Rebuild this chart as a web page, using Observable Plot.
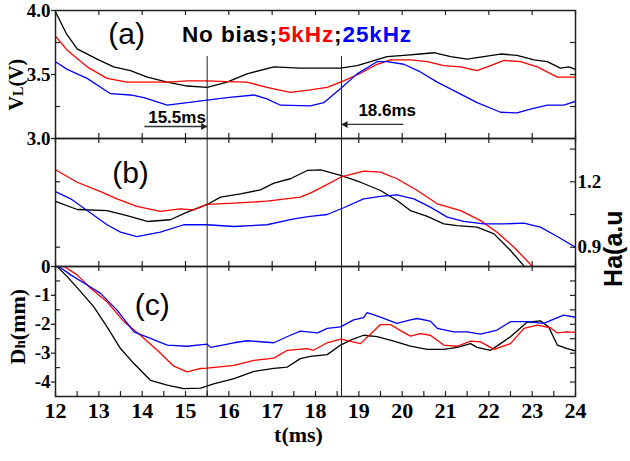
<!DOCTYPE html>
<html><head><meta charset="utf-8">
<script src="https://cdn.jsdelivr.net/npm/d3@7"></script>
<script src="https://cdn.jsdelivr.net/npm/@observablehq/plot@0.6"></script>
<style>
html,body{margin:0;padding:0;background:#fff;}
#chart{position:relative;width:630px;height:461px;overflow:hidden;}
</style></head><body><div id="chart"></div>
<script>
// ---------- data ----------
const seriesNames = ["No bias", "5kHz", "25kHz"];
const seriesColors = ["#000000", "#ff0000", "#0000ff"];

// (a) loop voltage V_L (V)
const vlNoBias = [[12,3.99],[12.25,3.82],[12.5,3.70],[12.96,3.62],[13.34,3.56],[13.73,3.53],[14.12,3.48],[14.58,3.44],[15.04,3.41],[15.5,3.40],[15.96,3.44],[16.42,3.505],[17.04,3.56],[17.65,3.55],[18.58,3.55],[18.96,3.57],[19.27,3.60],[19.65,3.64],[20.04,3.65],[20.42,3.66],[20.73,3.67],[21.12,3.64],[21.5,3.62],[21.88,3.64],[22.27,3.66],[22.65,3.65],[23.04,3.615],[23.35,3.60],[23.65,3.55],[23.85,3.56],[24,3.54]];
const vl5k = [[12,3.80],[12.27,3.69],[12.73,3.56],[13.19,3.47],[13.65,3.44],[14.12,3.44],[14.58,3.44],[15.04,3.45],[15.5,3.45],[15.96,3.445],[16.42,3.44],[16.88,3.40],[17.42,3.36],[17.88,3.38],[18.27,3.40],[18.65,3.45],[19.04,3.51],[19.42,3.58],[19.73,3.615],[20.19,3.615],[20.58,3.60],[20.96,3.57],[21.35,3.56],[21.73,3.53],[22.04,3.57],[22.35,3.61],[22.73,3.60],[23.12,3.56],[23.58,3.48],[24,3.48]];
const vl25k = [[12,3.60],[12.27,3.54],[12.73,3.47],[13.27,3.35],[13.73,3.34],[14.04,3.32],[14.58,3.26],[15.04,3.28],[15.5,3.30],[15.96,3.32],[16.58,3.34],[16.88,3.31],[17.19,3.26],[17.88,3.255],[18.19,3.28],[18.58,3.39],[18.96,3.505],[19.42,3.60],[19.65,3.60],[20.04,3.58],[20.42,3.52],[20.81,3.44],[21.27,3.36],[21.73,3.28],[22.27,3.205],[22.65,3.20],[22.96,3.23],[23.35,3.26],[23.73,3.26],[24,3.29]];

// (b) H-alpha (a.u)
const haNoBias = [[12,1.11],[12.5,1.073],[13.19,1.068],[13.65,1.045],[14.12,1.018],[14.65,1.026],[15.04,1.061],[15.5,1.096],[15.81,1.13],[16.27,1.145],[16.73,1.163],[17.04,1.194],[17.42,1.214],[17.81,1.252],[18.12,1.255],[18.58,1.229],[19.04,1.198],[19.5,1.16],[19.88,1.114],[20.19,1.068],[20.58,1.041],[20.96,1.007],[21.27,0.999],[21.73,0.992],[22.12,0.961],[22.5,0.885],[22.85,0.805]];
const ha5k = [[12,1.255],[12.5,1.198],[13.04,1.155],[13.42,1.122],[13.88,1.087],[14.42,1.064],[14.88,1.076],[15.19,1.071],[15.5,1.096],[16.12,1.102],[16.88,1.111],[17.65,1.13],[17.88,1.148],[18.12,1.172],[18.58,1.221],[19.11,1.249],[19.5,1.244],[19.88,1.214],[20.35,1.16],[20.81,1.099],[21.35,1.068],[21.81,1.022],[22.19,0.969],[22.58,0.90],[23.04,0.805]];
const ha25k = [[12,1.155],[12.35,1.122],[12.73,1.068],[13.19,1.003],[13.5,0.969],[13.88,0.949],[14.42,0.969],[14.96,1.003],[15.5,1.003],[16.12,0.995],[16.88,1.003],[17.5,1.03],[17.88,1.041],[18.27,1.05],[18.65,1.081],[19.11,1.122],[19.5,1.133],[19.88,1.14],[20.27,1.122],[20.65,1.084],[21.04,1.038],[21.42,1.018],[21.88,1.007],[22.35,1.007],[22.81,1.01],[23.19,0.992],[23.58,0.949],[24,0.90]];

// (c) horizontal displacement D_h (mm)
const dhNoBias = [[12.04,0],[12.27,-0.35],[12.58,-0.87],[12.88,-1.39],[13.19,-2.09],[13.5,-2.84],[13.81,-3.36],[14.19,-3.94],[14.58,-4.11],[14.96,-4.23],[15.35,-4.21],[15.65,-4.06],[16.12,-3.88],[16.58,-3.63],[17.04,-3.53],[17.35,-3.48],[17.65,-3.19],[17.88,-3.11],[18.27,-3.05],[18.58,-2.72],[18.81,-2.55],[19.11,-2.38],[19.42,-2.43],[19.81,-2.58],[20.19,-2.76],[20.58,-2.87],[20.96,-2.87],[21.27,-2.80],[21.58,-2.67],[21.73,-2.80],[22.04,-2.90],[22.27,-2.67],[22.5,-2.43],[22.88,-1.93],[23.19,-1.88],[23.38,-2.09],[23.58,-2.72],[23.81,-2.84],[24,-2.92]];
const dh5k = [[12.2,0],[12.5,-0.29],[12.81,-0.75],[13.19,-1.22],[13.58,-1.91],[13.96,-2.38],[14.35,-2.90],[14.73,-3.45],[15.04,-3.65],[15.35,-3.53],[15.5,-3.52],[16.12,-3.42],[16.58,-3.25],[17.04,-3.17],[17.35,-2.90],[17.81,-2.84],[17.95,-2.90],[18.27,-2.64],[18.58,-2.51],[19.04,-2.67],[19.5,-2.01],[19.73,-2.01],[19.96,-2.22],[20.19,-2.41],[20.42,-2.32],[20.65,-2.38],[20.96,-2.72],[21.27,-2.76],[21.58,-2.58],[21.81,-2.61],[22.12,-2.87],[22.5,-2.67],[22.81,-2.14],[23.12,-2.03],[23.42,-2.12],[23.58,-2.30],[23.81,-2.26],[24,-2.28]];
const dh25k = [[12.08,0],[12.35,-0.29],[12.73,-0.64],[13.04,-0.93],[13.42,-1.51],[13.81,-2.26],[14.19,-2.49],[14.58,-2.72],[15.04,-2.76],[15.5,-2.69],[15.58,-2.80],[16.12,-2.64],[16.42,-2.57],[17.04,-2.64],[17.42,-2.38],[17.65,-2.24],[18.05,-2.30],[18.27,-2.14],[18.58,-2.09],[18.88,-1.85],[19.11,-1.77],[19.19,-1.60],[19.42,-1.71],[19.88,-1.97],[20.19,-1.85],[20.35,-1.80],[20.65,-1.89],[20.81,-2.14],[21.19,-2.26],[21.5,-2.26],[21.81,-2.34],[22.19,-2.20],[22.5,-1.91],[22.88,-1.91],[23.27,-1.97],[23.5,-1.82],[23.73,-1.68],[24,-1.76]];

// ticks and markers
const tTicks = [12,13,14,15,16,17,18,19,20,21,22,23,24];
const tHalfTicks = [12.5,13.5,14.5,15.5,16.5,17.5,18.5,19.5,20.5,21.5,22.5,23.5];
const vlTicks = [3.0, 3.5, 4.0];
const vlMinor = [3.25, 3.5, 3.75];
const haTicks = [0.9, 1.2];
const haMinor = [0.9, 1.05, 1.2, 1.35];
const dhTicks = [0, -1, -2, -3, -4];
const dhMinor = [-0.5, -1, -1.5, -2, -2.5, -3, -3.5, -4];
const markerT = [15.5, 18.6];
const markerLabels = ["15.5ms", "18.6ms"];
const arrowStartT = [14.05, 20.03];
const arrowV = [3.094, 3.11];

// ---------- drawing ----------
const SERIF = "'Liberation Serif','Times New Roman',Times,serif";
const SANS = "'Liberation Sans',Arial,Helvetica,sans-serif";
const AX = "#222";
const W = 630, H = 461, ML = 55, MR = 55;
const tDomain = [12, 24];
const TICK = 5; // px
const xLen = TICK * (tDomain[1] - tDomain[0]) / (W - ML - MR);

const rows = (arrs) => arrs.flatMap((a, i) => a.map(([t, v]) => ({t, v, s: seriesNames[i]})));

function edgeMarks(yDomain, plotH, majorX, bottomX) {
  const yLen = TICK * (yDomain[1] - yDomain[0]) / plotH;
  return [
    Plot.ruleX(majorX, {x: d => d, y1: yDomain[1], y2: yDomain[1] - yLen, stroke: AX, strokeWidth: 1.2}),
    Plot.ruleX(bottomX, {x: d => d, y1: yDomain[0], y2: yDomain[0] + yLen, stroke: AX, strokeWidth: 1.2}),
  ];
}
function sideTicks(leftVals, rightVals) {
  return [
    Plot.ruleY(leftVals, {y: d => d, x1: tDomain[0], x2: tDomain[0] + xLen, stroke: AX, strokeWidth: 1.2}),
    Plot.ruleY(rightVals, {y: d => d, x1: tDomain[1], x2: tDomain[1] - xLen, stroke: AX, strokeWidth: 1.2}),
  ];
}
function seriesLines(data) {
  return Plot.line(rows(data), {x: "t", y: "v", z: "s", stroke: "s", strokeWidth: 1.3, clip: true});
}
function panel(top, bottom, yDomain, marks, xAxis) {
  return Plot.plot({
    width: W, height: H,
    marginLeft: ML, marginRight: MR, marginTop: top, marginBottom: H - bottom,
    x: {domain: tDomain, axis: xAxis ? undefined : null},
    y: {domain: yDomain},
    color: {domain: seriesNames, range: seriesColors},
    style: {background: "transparent", overflow: "visible"},
    marks
  });
}

const arrows = markerT.map((t, i) => ({x1: arrowStartT[i], x2: t, y: arrowV[i], dir: t > arrowStartT[i] ? 1 : -1}));

// Panel (a)
const yA = [3, 4];
const A = panel(10, 138, yA, [
  Plot.axisY(vlTicks, {anchor: "left", tickSize: 4, tickPadding: 1, tickFormat: d3.format(".1f"), stroke: AX, strokeWidth: 1.3, label: null}),
  ...edgeMarks(yA, 128, tTicks, tTicks),
  ...sideTicks([3.25, 3.75], vlMinor),
  seriesLines([vlNoBias, vl5k, vl25k]),
  Plot.ruleX(markerT, {x: d => d, y1: 3.0, y2: 3.64, stroke: AX, strokeWidth: 1}),
  Plot.link(arrows, {x1: "x1", x2: "x2", y1: "y", y2: "y", stroke: "#333", strokeWidth: 1.4}),
  Plot.dot(arrows.filter(d => d.dir > 0), {x: "x2", y: "y", symbol: "triangle", r: 2.6, rotate: 90, dx: -4, fill: "#222", stroke: null}),
  Plot.dot(arrows.filter(d => d.dir < 0), {x: "x2", y: "y", symbol: "triangle", r: 2.6, rotate: -90, dx: 4, fill: "#222", stroke: null}),
  Plot.text([markerLabels[0]], {x: 15.47, y: 3.16, textAnchor: "end", fontSize: 17, fontWeight: "bold", fontFamily: SANS, fill: "#000"}),
  Plot.text([markerLabels[1]], {x: 18.99, y: 3.215, textAnchor: "start", fontSize: 17, fontWeight: "bold", fontFamily: SANS, fill: "#000"}),
  Plot.text(["(a)"], {x: 13.64, y: 3.81, fontSize: 30, fontFamily: SANS, fill: "#000"}),
  Plot.frame({stroke: AX, strokeWidth: 1.5})
]);

// Panel (b)
const yB = [0.8115, 1.3986];
const B = panel(138, 266, yB, [
  Plot.axisY(haTicks, {anchor: "right", tickSize: 0, tickPadding: 2, tickFormat: d3.format(".1f"), label: null}),
  ...edgeMarks(yB, 128, tTicks, tTicks),
  ...sideTicks([0.9, 1.2], haMinor),
  seriesLines([haNoBias, ha5k, ha25k]),
  Plot.ruleX(markerT, {x: d => d, y1: yB[0], y2: yB[1], stroke: AX, strokeWidth: 1}),
  Plot.text(["(b)"], {x: 13.73, y: 1.238, fontSize: 30, fontFamily: SANS, fill: "#000"}),
  Plot.text(["Ha(a.u"], {frameAnchor: "right", dx: 38, dy: 8, rotate: -90, fontSize: 25, fontWeight: "bold", fontFamily: SANS, fill: "#000"}),
  Plot.frame({stroke: AX, strokeWidth: 1.5})
]);

// Panel (c)
const yC = [-4.5, 0];
const C = panel(266, 396, yC, [
  Plot.axisY(dhTicks, {anchor: "left", tickSize: 4, tickPadding: 1, tickFormat: d => String(d), stroke: AX, strokeWidth: 1.3, label: null}),
  Plot.axisX(tTicks, {anchor: "bottom", tickSize: 0, tickPadding: 6, label: null}),
  ...edgeMarks(yC, 130, tTicks, tTicks.concat(tHalfTicks)),
  ...sideTicks([-0.5, -1.5, -2.5, -3.5], dhMinor),
  seriesLines([dhNoBias, dh5k, dh25k]),
  Plot.ruleX(markerT, {x: d => d, y1: yC[0], y2: yC[1], stroke: AX, strokeWidth: 1}),
  Plot.text(["(c)"], {x: 14.23, y: -1.33, fontSize: 30, fontFamily: SANS, fill: "#000"}),
  Plot.text(["t(ms)"], {frameAnchor: "bottom", dx: -17, dy: 45, fontSize: 22, fontWeight: "bold", fontFamily: SERIF, fill: "#000"}),
  Plot.frame({stroke: AX, strokeWidth: 1.5})
], true);

// style the tick labels (bold serif, as in the figure)
for (const p of [A, B, C]) {
  d3.select(p).selectAll('g[aria-label="y-axis tick label"]')
    .attr("font-family", SERIF).attr("font-weight", "bold").attr("font-size", 19).attr("fill", "#000")
    .selectAll("text").attr("font-family", SERIF).attr("font-weight", "bold").attr("font-size", 19);
  d3.select(p).selectAll('g[aria-label="x-axis tick label"]')
    .attr("font-family", SERIF).attr("font-weight", "bold").attr("font-size", 22).attr("fill", "#000")
    .selectAll("text").attr("font-family", SERIF).attr("font-weight", "bold").attr("font-size", 22);
}

// Title with coloured parts and subscript axis labels
const svgA = d3.select(A);
const title = svgA.append("text")
  .attr("x", A.scale("x").apply(14.93)).attr("y", A.scale("y").apply(3.75))
  .attr("text-anchor", "start").attr("font-family", SANS).attr("font-weight", "bold")
  .attr("font-size", 22.5).attr("letter-spacing", 0.9);
title.append("tspan").attr("fill", seriesColors[0]).text(seriesNames[0] + ";");
title.append("tspan").attr("fill", seriesColors[1]).text(seriesNames[1]);
title.append("tspan").attr("fill", seriesColors[0]).text(";");
title.append("tspan").attr("fill", seriesColors[2]).text(seriesNames[2]);

const vl = svgA.append("text")
  .attr("transform", `translate(${ML - 32},${A.scale("y").apply(3.55) + 17}) rotate(-90)`)
  .attr("text-anchor", "middle").attr("font-family", SERIF).attr("font-weight", "bold").attr("font-size", 20).attr("fill", "#000");
vl.append("tspan").text("V");
vl.append("tspan").attr("font-size", 14).text("L");
vl.append("tspan").text("(V)");

const dh = d3.select(C).append("text")
  .attr("transform", `translate(${ML - 30},${C.scale("y").apply(-2.1)}) rotate(-90)`)
  .attr("text-anchor", "middle").attr("font-family", SERIF).attr("font-weight", "bold").attr("font-size", 22).attr("fill", "#000");
dh.append("tspan").text("D");
dh.append("tspan").attr("font-size", 15).text("h");
dh.append("tspan").text("(mm)");

// merge panels into one svg
const NS = "http://www.w3.org/2000/svg";
for (const p of [B, C]) {
  const g = document.createElementNS(NS, "g");
  for (const child of Array.from(p.childNodes)) {
    if (child.nodeName.toLowerCase() !== "style") g.appendChild(child);
  }
  A.appendChild(g);
}
document.getElementById("chart").appendChild(A);
</script>
</body></html>
